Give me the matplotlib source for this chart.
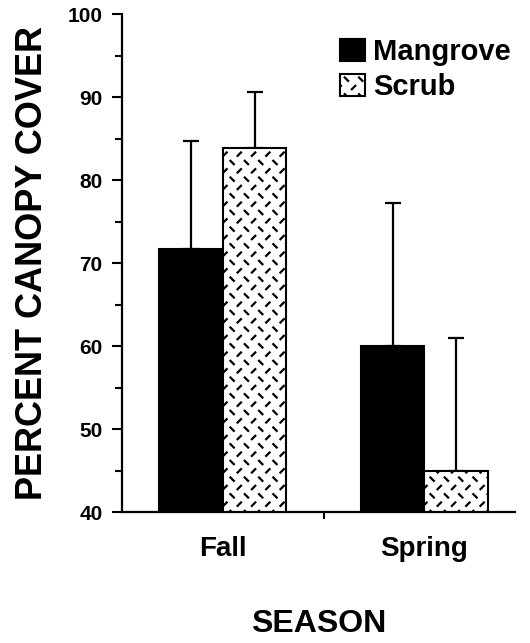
import warnings
import numpy as np
import matplotlib
matplotlib.use("Agg")
import matplotlib.pyplot as plt
from matplotlib import hatch as mhatch
from matplotlib.path import Path

warnings.filterwarnings("ignore")

seasons = ["Fall", "Spring"]
series = ["Mangrove", "Scrub"]
mangrove = [71.7, 60.0]
scrub = [83.9, 45.0]
mangrove_err = [13.0, 17.2]
scrub_err = [6.7, 16.0]
yticks = [40, 50, 60, 70, 80, 90, 100]


class DashHatch(mhatch.HatchPatternBase):
    """Short alternating diagonal dashes (herringbone-like texture)."""
    def __init__(self, hatch, density):
        self.active = 'd' in hatch
        self.nx, self.ny = 7, 6
        self.num_vertices = self.nx * self.ny * 4 if self.active else 0

    def set_vertices_and_codes(self, vertices, codes):
        d = 0.017
        k = 0
        for i in range(self.nx):
            for j in range(self.ny):
                cx = (i + 0.25) / self.nx
                cy = (j + 0.25) / self.ny
                vertices[k] = (cx - d, cy + d)
                vertices[k + 1] = (cx + d, cy - d)
                cx2 = (i + 0.75) / self.nx
                cy2 = (j + 0.75) / self.ny
                vertices[k + 2] = (cx2 - d, cy2 - d)
                vertices[k + 3] = (cx2 + d, cy2 + d)
                k += 4
        codes[0::2] = Path.MOVETO
        codes[1::2] = Path.LINETO


mhatch._hatch_types.append(DashHatch)

plt.rcParams['font.family'] = ['Liberation Sans', 'DejaVu Sans']
plt.rcParams['font.weight'] = 'bold'
plt.rcParams['hatch.linewidth'] = 1.6

fig = plt.figure(figsize=(5.30, 6.43), dpi=100)
ax = fig.add_axes([0.2302, 0.2037, 0.7415, 0.7745])

x = np.arange(len(seasons))
w = 0.315
ax.bar(x - w / 2, mangrove, w, color='black', edgecolor='black',
       linewidth=1.5, label=series[0], zorder=2)
ax.bar(x + w / 2, scrub, w, color='white', edgecolor='black', hatch='d',
       linewidth=1.5, label=series[1], zorder=2)
ax.errorbar(x - w / 2, mangrove, yerr=[np.zeros(2), mangrove_err], fmt='none',
            ecolor='black', elinewidth=1.6, capsize=5.5, capthick=1.6, zorder=1)
ax.errorbar(x + w / 2, scrub, yerr=[np.zeros(2), scrub_err], fmt='none',
            ecolor='black', elinewidth=1.6, capsize=5.5, capthick=1.6, zorder=1)

ax.set_ylim(40, 100)
ax.set_xlim(-0.5, 1.45)
ax.set_yticks(yticks)
ax.set_yticks(np.arange(45, 100, 10), minor=True)
ax.set_xticks(x)
ax.set_xticklabels(seasons, fontsize=20, fontweight='bold')
ax.set_xticks([0.5], minor=True)
ax.tick_params(axis='x', which='major', length=0, pad=17)
ax.tick_params(axis='x', which='minor', length=5, width=1.5, direction='out')
ax.tick_params(axis='y', which='major', length=7, width=1.5, direction='out',
               labelsize=15, pad=7)
ax.tick_params(axis='y', which='minor', length=5, width=1.5, direction='out')
for lab in ax.get_yticklabels():
    lab.set_fontweight('bold')

for s in ['top', 'right']:
    ax.spines[s].set_visible(False)
for s in ['left', 'bottom']:
    ax.spines[s].set_linewidth(1.6)

ax.set_ylabel("PERCENT CANOPY COVER", fontsize=26, fontweight='bold', labelpad=13)
ax.set_xlabel("SEASON", fontsize=23, fontweight='bold', labelpad=34)

leg = ax.legend(loc='upper right', bbox_to_anchor=(1.02, 0.975), frameon=False,
                fontsize=21, handlelength=0.85, handleheight=0.8,
                handletextpad=0.3, labelspacing=0.25, borderaxespad=0.0)
for t in leg.get_texts():
    t.set_fontweight('bold')

fig.savefig("out.png", dpi=100)
